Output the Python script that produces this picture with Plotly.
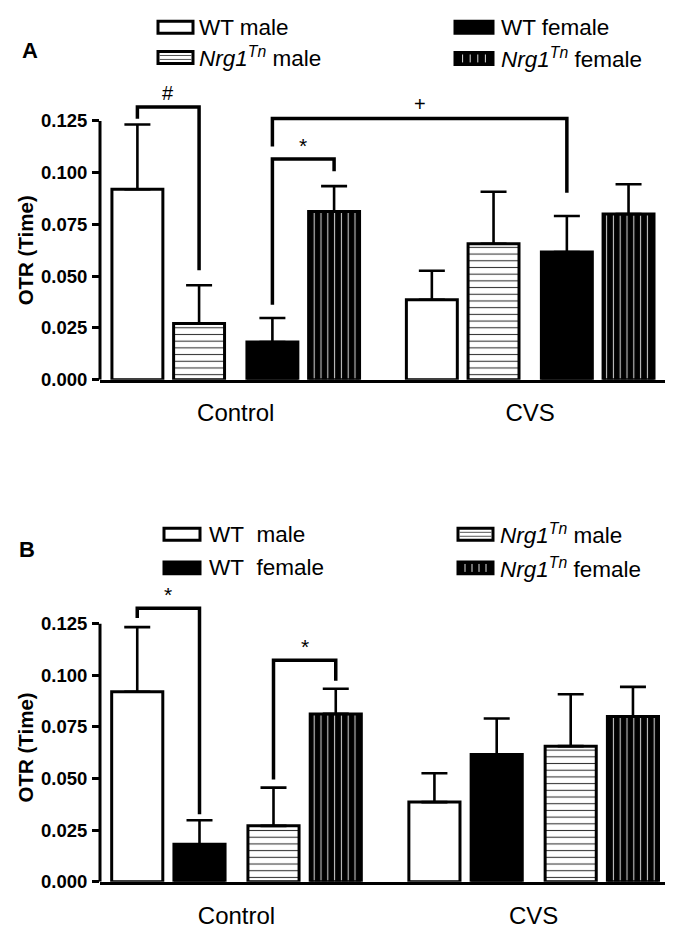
import plotly.graph_objects as go

W, H = 673, 933

# ---------------- data ----------------
groups = ["Control", "CVS"]
wt_male = [0.0920, 0.0386]
nrg1_male = [0.0271, 0.0657]
wt_female = [0.0182, 0.0617]
nrg1_female = [0.0813, 0.0800]
wt_male_err = [0.0313, 0.0140]
nrg1_male_err = [0.0185, 0.0251]
wt_female_err = [0.0116, 0.0174]
nrg1_female_err = [0.0122, 0.0144]
y_ticks = [0.000, 0.025, 0.050, 0.075, 0.100, 0.125]

series = {
    "wt_male": (wt_male, wt_male_err),
    "nrg1_male": (nrg1_male, nrg1_male_err),
    "wt_female": (wt_female, wt_female_err),
    "nrg1_female": (nrg1_female, nrg1_female_err),
}
labels = {
    "wt_male": "WT male",
    "wt_female": "WT female",
    "nrg1_male": "<i>Nrg1<sup>Tn</sup></i> male",
    "nrg1_female": "<i>Nrg1<sup>Tn</sup></i> female",
}
labels_b = dict(labels)
labels_b["wt_male"] = "WT\u00a0 male"
labels_b["wt_female"] = "WT\u00a0 female"

order_a = ["wt_male", "nrg1_male", "wt_female", "nrg1_female"]
order_b = ["wt_male", "wt_female", "nrg1_male", "nrg1_female"]

# ---------------- styles ----------------
FONT = "Liberation Sans, Arial, sans-serif"
styles = {
    "wt_male": dict(color="white"),
    "nrg1_male": dict(color="white", pattern=dict(shape="-", fgcolor="#333333", bgcolor="white",
                                                   size=6.7, solidity=0.16, fillmode="replace")),
    "wt_female": dict(color="black"),
    "nrg1_female": dict(color="black", pattern=dict(shape="|", fgcolor="#c8c8c8", bgcolor="black",
                                                     size=6.8, solidity=0.16, fillmode="replace")),
}
offsets = [-0.334, -0.1245, 0.1245, 0.334]


def px(x):
    return x / W


def py(y):
    return 1 - y / H


fig = go.Figure()

panels = [
    dict(order=order_a, xa="x", ya="y", xrange=[0.539, 2.468], xdom=[92, 660], ydom=[375.7, 82.8],
         width=0.173, labels=labels),
    dict(order=order_b, xa="x2", ya="y2", xrange=[0.5407, 2.462], xdom=[92, 663], ydom=[883.3, 591.0],
         width=0.172, labels=labels_b),
]

for p in panels:
    for slot, key in enumerate(p["order"]):
        vals, errs = series[key]
        st = styles[key]
        marker = dict(color=st["color"], line=dict(color="black", width=3))
        if "pattern" in st:
            marker["pattern"] = st["pattern"]
        fig.add_trace(go.Bar(
            x=[g + 1 + offsets[slot] for g in range(len(groups))],
            y=vals,
            width=p["width"],
            marker=marker,
            error_y=dict(type="data", array=errs, arrayminus=[0] * len(errs), symmetric=False,
                         color="black", thickness=2.6, width=13),
            xaxis=p["xa"], yaxis=p["ya"], showlegend=False, cliponaxis=False,
        ))

axis_common_x = dict(showline=True, linecolor="black", linewidth=3, ticks="", showgrid=False,
                     zeroline=False, tickvals=[1, 2], ticktext=groups,
                     tickfont=dict(family=FONT, size=24, color="black"), ticklabelstandoff=10)
axis_common_y = dict(showline=False, ticks="outside", ticklen=7, tickwidth=3, tickcolor="black",
                     showgrid=False, zeroline=False, range=[0, 0.14], tickvals=y_ticks,
                     ticktext=[f"<b>{v:.3f}</b>" for v in y_ticks],
                     tickfont=dict(family=FONT, size=18.5, color="black"), ticklabelstandoff=1)

pa, pb = panels
fig.update_layout(
    width=W, height=H, margin=dict(l=0, r=0, t=0, b=0),
    plot_bgcolor="white", paper_bgcolor="white", barmode="overlay",
    xaxis=dict(axis_common_x, range=pa["xrange"], domain=[px(pa["xdom"][0]), px(pa["xdom"][1])], anchor="y"),
    yaxis=dict(axis_common_y, domain=[py(pa["ydom"][0]), py(pa["ydom"][1])], anchor="x"),
    xaxis2=dict(axis_common_x, range=pb["xrange"], domain=[px(pb["xdom"][0]), px(pb["xdom"][1])], anchor="y2"),
    yaxis2=dict(axis_common_y, domain=[py(pb["ydom"][0]), py(pb["ydom"][1])], anchor="x2"),
)

shapes = []
annotations = []

# y axis lines only up to 0.125
for p in panels:
    shapes.append(dict(type="line", xref=p["xa"] + " domain", yref=p["ya"], x0=0, x1=0,
                       y0=0, y1=y_ticks[-1], line=dict(color="black", width=3)))


def bar_x(p, group, key):
    return group + 1 + offsets[p["order"].index(key)]


# significance brackets: (panel, (group,key), (group,key), top, left end, right end, label)
brackets = [
    (0, (0, "wt_male"), (0, "nrg1_male"), 0.1318, 0.1261, 0.0529, "#"),
    (0, (0, "wt_female"), (1, "wt_female"), 0.1262, 0.1127, 0.0903, "+"),
    (0, (0, "wt_female"), (0, "nrg1_female"), 0.1066, 0.0362, 0.1007, "*"),
    (1, (0, "wt_male"), (0, "wt_female"), 0.1325, 0.1277, 0.0327, "*"),
    (1, (0, "nrg1_male"), (0, "nrg1_female"), 0.1073, 0.0495, 0.0974, "*"),
]
for pi, (g1, k1), (g2, k2), yt, yl, yr, lab in brackets:
    p = panels[pi]
    x1 = bar_x(p, g1, k1)
    x2 = bar_x(p, g2, k2)
    shapes.append(dict(type="path", xref=p["xa"], yref=p["ya"],
                       path=f"M {x1},{yl} L {x1},{yt} L {x2},{yt} L {x2},{yr}",
                       line=dict(color="black", width=3.5)))
    annotations.append(dict(text=lab, x=(x1 + x2) / 2, y=yt, xref=p["xa"], yref=p["ya"],
                            xanchor="center", yanchor="bottom", yshift=1 if lab != "*" else 0,
                            showarrow=False,
                            font=dict(family=FONT, size=20 if lab != "*" else 21, color="black")))

# y titles and panel letters
for p, yc, letter, lx, ly in [(pa, 245.5, "A", 22, 43), (pb, 748, "B", 19, 547)]:
    annotations.append(dict(text="<b>OTR (Time)</b>", x=px(17.5), y=py(yc), xref="paper", yref="paper",
                            textangle=-90, showarrow=False, xanchor="center", yanchor="middle",
                            font=dict(family=FONT, size=20.5, color="black")))
    annotations.append(dict(text=f"<b>{letter}</b>", x=px(lx), y=py(ly),
                            xref="paper", yref="paper", showarrow=False, xanchor="center",
                            yanchor="middle", font=dict(family=FONT, size=22, color="black")))


# legends (drawn manually)
def swatch(key, x0, x1, yc, h=12):
    y0, y1 = yc - h / 2, yc + h / 2
    st = styles[key]
    shapes.append(dict(type="rect", xref="paper", yref="paper", x0=px(x0), x1=px(x1),
                       y0=py(y1), y1=py(y0), fillcolor=st["color"],
                       line=dict(color="black", width=3)))
    if key == "nrg1_male":
        for f in (1 / 3, 2 / 3):
            yy = y0 + f * (y1 - y0)
            shapes.append(dict(type="line", xref="paper", yref="paper", x0=px(x0 + 1.5), x1=px(x1 - 1.5),
                               y0=py(yy), y1=py(yy), line=dict(color="#555555", width=1)))
    if key == "nrg1_female":
        for f in (0.2, 0.4, 0.6, 0.8):
            xx = x0 + f * (x1 - x0)
            shapes.append(dict(type="line", xref="paper", yref="paper", x0=px(xx), x1=px(xx),
                               y0=py(y0 + 2), y1=py(y1 - 2), line=dict(color="#dddddd", width=1)))


legend_a = [("wt_male", 150, 185, 189, 19.5), ("nrg1_male", 150, 185, 189, 50),
            ("wt_female", 447, 485, 491, 19.5), ("nrg1_female", 447, 485, 491, 51)]
legend_b = [("wt_male", 156, 192, 199, 532), ("wt_female", 156, 192, 199, 566),
            ("nrg1_male", 450, 485, 490, 532), ("nrg1_female", 450, 485, 490, 566)]
for lst, labs in [(legend_a, labels), (legend_b, labels_b)]:
    for key, sx0, sx1, tx, yc in lst:
        swatch(key, sx0, sx1, yc)
        annotations.append(dict(text=labs[key], x=px(tx), y=py(yc), xref="paper", yref="paper",
                                xanchor="left", yanchor="middle", showarrow=False,
                                font=dict(family=FONT, size=22.5, color="black")))

fig.update_layout(shapes=shapes, annotations=annotations)
fig.write_html("out.html")
